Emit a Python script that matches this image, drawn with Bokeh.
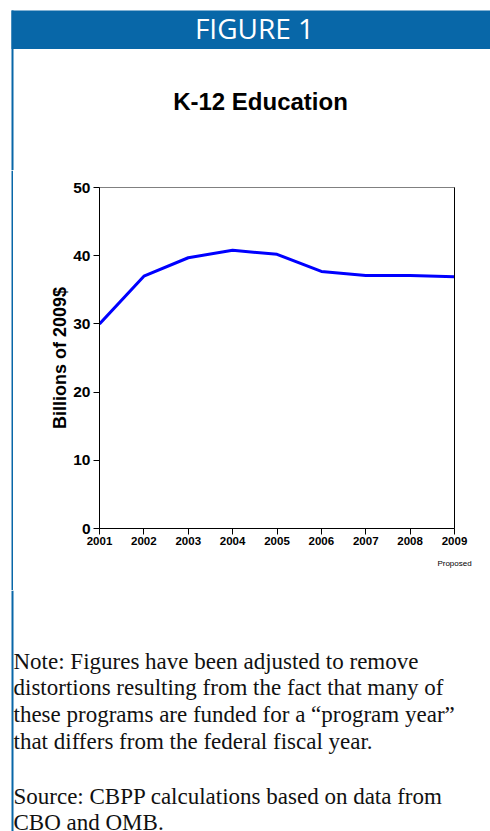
from bokeh.plotting import figure
from bokeh.layouts import column, row
from bokeh.models import Range1d, FixedTicker, LinearAxis
from bokeh.core.properties import value
from bokeh.embed import file_html
from bokeh.resources import INLINE

# Federal K-12 education funding, billions of 2009 dollars
years = [2001, 2002, 2003, 2004, 2005, 2006, 2007, 2008, 2009]
billions = [30.0, 37.0, 39.7, 40.8, 40.2, 37.7, 37.1, 37.1, 36.9]
y_ticks = [0, 10, 20, 30, 40, 50]

figure_label = "FIGURE 1"
chart_title = "K-12 Education"
y_label = "Billions of 2009$"
last_year_note = "Proposed"
note_lines = [
    "Note: Figures have been adjusted to remove",
    "distortions resulting from the fact that many of",
    "these programs are funded for a \u201cprogram year\u201d",
    "that differs from the federal fiscal year.",
]
source_lines = [
    "Source: CBPP calculations based on data from",
    "CBO and OMB.",
]

W = 490
HEAD_H, CHART_H, FOOT_H = 170, 420, 241
RULE_W = 13
BLUE = "#0867A8"
SANS = "Liberation Sans"
SERIF = "Liberation Serif"


def panel(width, height):
    # a bare drawing surface whose units are pixels, measured from the top-left
    f = figure(width=width, height=height,
               x_range=Range1d(0, width), y_range=Range1d(height, 0),
               x_axis_type=None, y_axis_type=None,
               output_backend="svg", toolbar_location=None,
               min_border=0, outline_line_color=None,
               background_fill_color="white", border_fill_color="white")
    f.grid.visible = False
    f.frame_align = False
    return f


# ---- header: banner, left rule, chart title
head = panel(W, HEAD_H)
head.quad(left=11, right=W, top=10, bottom=48.6, fill_color=BLUE, line_color=None)
head.quad(left=11, right=13, top=10, bottom=HEAD_H, fill_color=BLUE, line_color=None)
head.text(x=[254], y=[27], text=[figure_label], text_font=value("Open Sans"),
          text_font_size="28px", text_color="white",
          text_align="center", text_baseline="alphabetic")
head.text(x=[260], y=[100.8], text=[chart_title], text_font=value(SANS),
          text_font_style="bold", text_font_size="24px", text_color="black",
          text_align="center", text_baseline="alphabetic")

# ---- left rule alongside the chart
strip = panel(RULE_W, CHART_H)
strip.quad(left=11, right=13, top=0, bottom=CHART_H, fill_color=BLUE, line_color=None)

# ---- the chart itself
p = figure(
    width=W - RULE_W, height=CHART_H,
    x_range=Range1d(years[0], years[-1]),
    y_range=Range1d(y_ticks[0], y_ticks[-1]),
    output_backend="svg", toolbar_location=None,
    min_border_left=86, min_border_right=36,
    min_border_top=17, min_border_bottom=62,
    background_fill_color="white", border_fill_color="white",
)
p.frame_align = False
p.xgrid.visible = False
p.ygrid.visible = False
p.outline_line_color = "#808080"
p.outline_line_width = 1

p.line(years, billions, line_color="#0000FF", line_width=3)

xa = p.xaxis[0]
xa.ticker = FixedTicker(ticks=years)
xa.axis_line_color = "black"
xa.major_tick_line_color = "black"
xa.major_tick_in = 0
xa.major_tick_out = 6
xa.minor_tick_line_color = None
xa.major_label_standoff = 2
xa.major_label_text_font = SANS
xa.major_label_text_font_style = "bold"
xa.major_label_text_font_size = "11.5px"
xa.major_label_text_color = "black"

# small note under the final (proposed) year
note_axis = LinearAxis(
    ticker=FixedTicker(ticks=[years[-1]]),
    major_label_overrides={years[-1]: last_year_note},
    axis_line_color=None, major_tick_line_color=None, minor_tick_line_color=None,
    major_tick_in=0, major_tick_out=0, major_label_standoff=11,
    major_label_text_font=SANS, major_label_text_font_size="8px",
    major_label_text_color="black")
p.add_layout(note_axis, "below")

ya = p.yaxis[0]
ya.ticker = FixedTicker(ticks=y_ticks)
ya.axis_line_color = "black"
ya.major_tick_line_color = "black"
ya.major_tick_in = 0
ya.major_tick_out = 6
ya.minor_tick_line_color = None
ya.major_label_standoff = 3
ya.major_label_text_font = SANS
ya.major_label_text_font_style = "bold"
ya.major_label_text_font_size = "15.5px"
ya.major_label_text_color = "black"
ya.axis_label = y_label
ya.axis_label_standoff = 0
ya.axis_label_text_font = SANS
ya.axis_label_text_font_style = "bold"
ya.axis_label_text_font_size = "18px"
ya.axis_label_text_color = "black"

right_edge = LinearAxis(ticker=FixedTicker(ticks=[]), axis_line_color="black",
                        major_tick_line_color=None, minor_tick_line_color=None)
p.add_layout(right_edge, "right")

# ---- footer notes
foot = panel(W, FOOT_H)
foot.quad(left=11, right=13, top=0, bottom=FOOT_H, fill_color=BLUE, line_color=None)
page_top = HEAD_H + CHART_H
baselines = [660.6, 687.3, 714.0, 740.7, 795.6, 822.0]
lines = note_lines + source_lines
foot.text(x=[13] * len(lines), y=[b - page_top for b in baselines], text=lines,
          text_font=value(SERIF), text_font_size="23px", text_color="#111111",
          text_align="left", text_baseline="alphabetic")

layout = column(head, row(strip, p), foot)
open("out.html", "w").write(file_html(layout, INLINE))
